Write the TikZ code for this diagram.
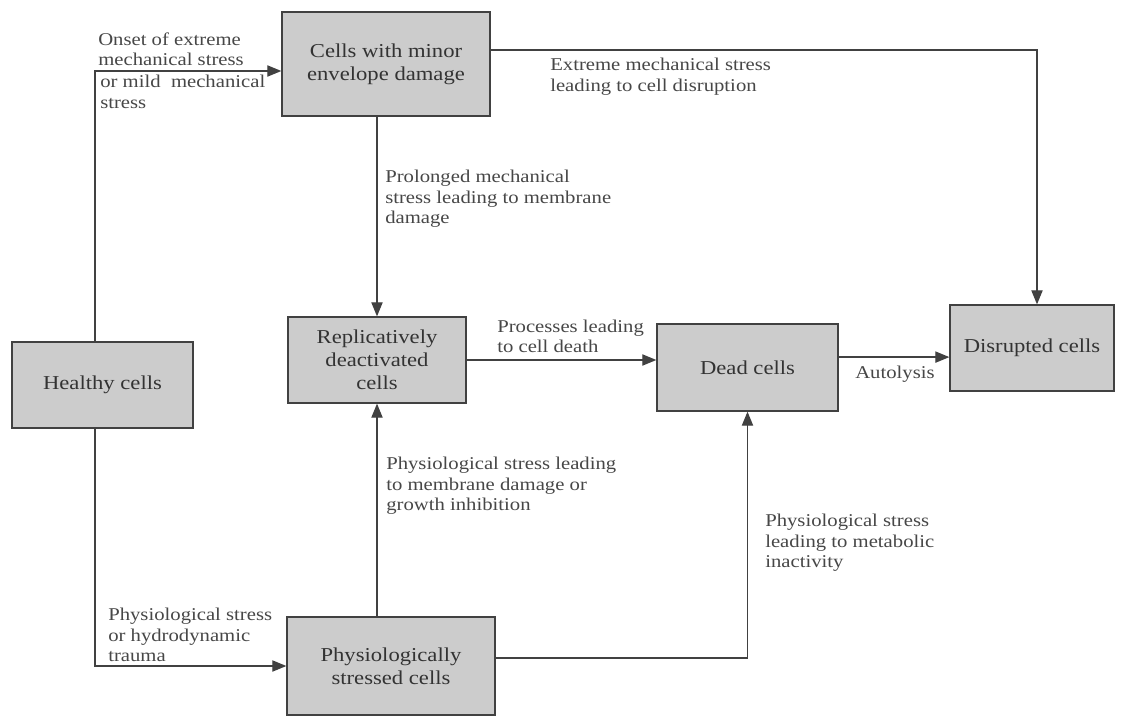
\documentclass[tikz,border=0pt]{standalone}
\usepackage{fontspec}
\setmainfont{Liberation Serif}[FakeStretch=1.15]
\usetikzlibrary{arrows.meta,positioning}
\definecolor{boxgray}{RGB}{204,204,204}
\definecolor{linegray}{RGB}{65,65,65}

\begin{document}
\begin{tikzpicture}[x=0.025cm,y=-0.025cm,
  c/.style={rectangle,draw=linegray,fill=boxgray,line width=0.9pt,align=center,inner sep=0pt,text=black!80,font=\fontsize{14}{16.5}\selectfont},
  lbl/.style={align=left,inner sep=0pt,text=black!72,font=\fontsize{12.8}{14.5}\selectfont},
  con/.style={draw=linegray,line width=0.9pt,-{Triangle[length=3.5mm,width=2.8mm]}}]
  \useasboundingbox[fill=white] (0,0) rectangle (1124,716);

  \node[c,minimum width=5.2cm,minimum height=2.6cm] (minor) at (386,64) {Cells with minor\\envelope damage};
  \node[c,minimum width=4.525cm,minimum height=2.15cm] (healthy) at (102.5,385) {Healthy cells};
  \node[c,minimum width=4.45cm,minimum height=2.15cm] (replic) at (377,360) {Replicatively\\deactivated\\cells};
  \node[c,minimum width=4.525cm,minimum height=2.175cm] (dead) at (747.5,367.5) {Dead cells};
  \node[c,minimum width=4.1cm,minimum height=2.15cm] (disrupted) at (1032,348) {Disrupted cells};
  \node[c,minimum width=5.2cm,minimum height=2.45cm] (phys) at (391,666) {Physiologically\\stressed cells};

  \coordinate (bendA) at (95,71);
  \coordinate (bendB) at (1037,50);

  \draw[con] (healthy.north -| bendA) |- (minor.west |- bendA);
  \draw[con] (minor.east |- bendB) -| (disrupted.north -| bendB);
  \draw[con] (replic.north |- minor.south) -- (replic.north);
  \draw[con] (replic.east) -- (dead.west |- replic.east);
  \draw[con] ([yshift=0.26cm]dead.east) -- ([yshift=0.26cm]dead.east -| disrupted.west);
  \draw[con] (replic.south |- phys.north) -- (replic.south);
  \draw[con] ([yshift=0.2cm]phys.east) -| (dead.south);
  \draw[con] (healthy.south -| bendA) |- (phys.west);

  \node[lbl,anchor=south west] (onset) at (98,66) {Onset of extreme\\mechanical stress};
  \node[lbl,anchor=north west] (mild) at (100,75) {or mild\ \ mechanical\\stress};
  \node[lbl,anchor=north west] (extreme) at (550,58) {Extreme mechanical stress\\leading to cell disruption};
  \node[lbl,anchor=north west] (prolonged) at (385,170) {Prolonged mechanical\\stress leading to membrane\\damage};
  \node[lbl,anchor=south west] (processes) at (497,353) {Processes leading\\to cell death};
  \node[lbl,anchor=west] (autolysis) at (855,374) {Autolysis};
  \node[lbl,anchor=north west] (growth) at (386,457) {Physiological stress leading\\to membrane damage or\\growth inhibition};
  \node[lbl,anchor=north west] (metabolic) at (765,514) {Physiological stress\\leading to metabolic\\inactivity};
  \node[lbl,anchor=south west] (trauma) at (108,662) {Physiological stress\\or hydrodynamic\\trauma};
\end{tikzpicture}
\end{document}
